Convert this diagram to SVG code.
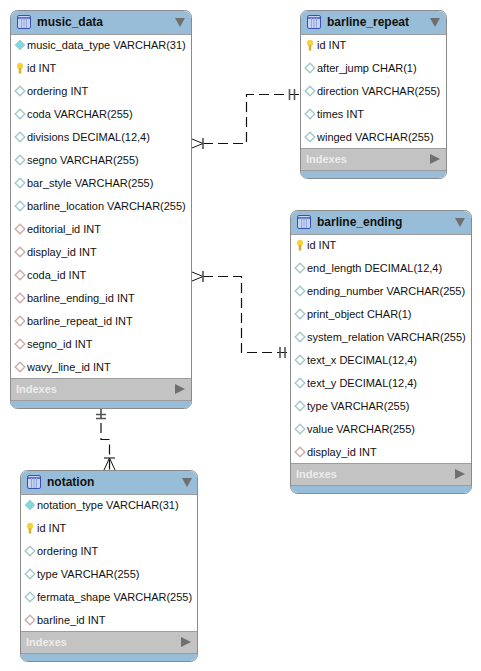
<svg xmlns="http://www.w3.org/2000/svg" width="481" height="671" viewBox="0 0 481 671">
<defs>
<style>
text{font-family:"Liberation Sans",Arial,sans-serif;font-size:11px;fill:#111}
.title{font-size:12px;font-weight:bold;fill:#111}
.idx{font-size:11px;font-weight:bold;fill:#ececec}
.frame{fill:#fff;stroke:#8a8a8a;stroke-width:1}
.blue{fill:#97bdd9}
.band{fill:#c3c3c3}
.sep{stroke:#9c9c9c;stroke-width:1}
.tri{fill:#6f6f6f}
.conn{fill:none;stroke:#111;stroke-width:1.2;stroke-dasharray:10 5}
.cap{fill:none;stroke:#111;stroke-width:1}
.bar{fill:none;stroke:#555;stroke-width:1.6}
</style>
<symbol id="tbl" overflow="visible">
<rect x="0.500" y="0.500" width="13" height="13" rx="1.500" fill="#c9d5f0" stroke="#3a50b0"/>
<path d="M1 3H13" stroke="#3a50b0" stroke-width="1.400"/>
<path d="M4.500 3V13M7 3V13M9.500 3V13" stroke="#8ea6dc" stroke-width="1"/>
</symbol>
<symbol id="pk" overflow="visible">
<path d="M-5 0L0 -5L5 0L0 5Z" fill="#7fdade" stroke="#b5cdcf" stroke-width="1"/>
</symbol>
<symbol id="col" overflow="visible">
<path d="M-4.800 0L0 -4.800L4.800 0L0 4.800Z" fill="#fff" stroke="#a3c8ca" stroke-width="1.400"/>
</symbol>
<symbol id="fk" overflow="visible">
<path d="M-4.800 0L0 -4.800L4.800 0L0 4.800Z" fill="#fff" stroke="#cfaaa7" stroke-width="1.400"/>
</symbol>
<symbol id="key" overflow="visible">
<ellipse cx="0" cy="-2" rx="3" ry="3.200" fill="#f7d23c"/>
<path d="M-1.300 0H1.300V5L0 6L-1.300 5Z" fill="#dcb02c"/>
</symbol>
</defs>

<g id="connectors">
<path class="conn" d="M203 143.500H246.500V94.500H300"/>
<path class="cap" d="M192 139L203 143.500L192 148"/>
<path class="bar" d="M203 138V149M289.500 89V100M294.500 89V100"/>
<path class="conn" d="M203 276.500H241.500V352.500H290"/>
<path class="cap" d="M192 272L203 276.500L192 281"/>
<path class="bar" d="M203 271V282M280 347V358M285 347V358"/>
<path class="conn" d="M101 408V439.500H109.500V470"/>
<path class="bar" d="M96 414.500H106M96 418.500H106M104 458H115"/>
<path class="cap" d="M104 470L109.500 458L115 470"/>
</g>

<g id="music_data">
<rect class="frame" x="10.500" y="10.500" width="181" height="398" rx="7"/>
<path class="blue" d="M11 34V17.500A7 7 0 0 1 18 11H184A7 7 0 0 1 191 17.500V34Z"/>
<path class="sep" d="M11 34.500H191"/>
<use href="#tbl" x="17" y="15"/>
<text class="title" x="37" y="26">music_data</text>
<path class="tri" d="M175 18H185L180 27Z"/>
<use href="#pk" x="20" y="45"/><text x="27" y="49">music_data_type VARCHAR(31)</text>
<use href="#key" x="20" y="68"/><text x="27" y="72">id INT</text>
<use href="#col" x="20" y="91"/><text x="27" y="95">ordering INT</text>
<use href="#col" x="20" y="114"/><text x="27" y="118">coda VARCHAR(255)</text>
<use href="#col" x="20" y="137"/><text x="27" y="141">divisions DECIMAL(12,4)</text>
<use href="#col" x="20" y="160"/><text x="27" y="164">segno VARCHAR(255)</text>
<use href="#col" x="20" y="183"/><text x="27" y="187">bar_style VARCHAR(255)</text>
<use href="#col" x="20" y="206"/><text x="27" y="210">barline_location VARCHAR(255)</text>
<use href="#fk" x="20" y="229"/><text x="27" y="233">editorial_id INT</text>
<use href="#fk" x="20" y="252"/><text x="27" y="256">display_id INT</text>
<use href="#fk" x="20" y="275"/><text x="27" y="279">coda_id INT</text>
<use href="#fk" x="20" y="298"/><text x="27" y="302">barline_ending_id INT</text>
<use href="#fk" x="20" y="321"/><text x="27" y="325">barline_repeat_id INT</text>
<use href="#fk" x="20" y="344"/><text x="27" y="348">segno_id INT</text>
<use href="#fk" x="20" y="367"/><text x="27" y="371">wavy_line_id INT</text>
<rect class="band" x="11" y="378" width="180" height="22"/>
<path class="sep" d="M11 378.500H191M11 400.500H191"/>
<text class="idx" x="16" y="393">Indexes</text>
<path class="tri" d="M175 384L185 389L175 394Z"/>
<path class="blue" d="M11 401H191V402A6 6 0 0 1 185 408H17A6 6 0 0 1 11 402Z"/>
</g>

<g id="barline_repeat">
<rect class="frame" x="300.500" y="10.500" width="146" height="168" rx="7"/>
<path class="blue" d="M301 34V17.500A7 7 0 0 1 308 11H439A7 7 0 0 1 446 17.500V34Z"/>
<path class="sep" d="M301 34.500H446"/>
<use href="#tbl" x="307" y="15"/>
<text class="title" x="317" y="26" dx="10">barline_repeat</text>
<path class="tri" d="M430 18H440L435 27Z"/>
<use href="#key" x="310" y="45"/><text x="317" y="49">id INT</text>
<use href="#col" x="310" y="68"/><text x="317" y="72">after_jump CHAR(1)</text>
<use href="#col" x="310" y="91"/><text x="317" y="95">direction VARCHAR(255)</text>
<use href="#col" x="310" y="114"/><text x="317" y="118">times INT</text>
<use href="#col" x="310" y="137"/><text x="317" y="141">winged VARCHAR(255)</text>
<rect class="band" x="301" y="148" width="145" height="22"/>
<path class="sep" d="M301 148.500H446M301 170.500H446"/>
<text class="idx" x="306" y="163">Indexes</text>
<path class="tri" d="M430 154L440 159L430 164Z"/>
<path class="blue" d="M301 171H446V172A6 6 0 0 1 440 178H307A6 6 0 0 1 301 172Z"/>
</g>

<g id="barline_ending">
<rect class="frame" x="290.500" y="210.500" width="181" height="283" rx="7"/>
<path class="blue" d="M291 234V217.500A7 7 0 0 1 298 211H464A7 7 0 0 1 471 217.500V234Z"/>
<path class="sep" d="M291 234.500H471"/>
<use href="#tbl" x="297" y="215"/>
<text class="title" x="317" y="226">barline_ending</text>
<path class="tri" d="M455 218H465L460 227Z"/>
<use href="#key" x="300" y="245"/><text x="307" y="249">id INT</text>
<use href="#col" x="300" y="268"/><text x="307" y="272">end_length DECIMAL(12,4)</text>
<use href="#col" x="300" y="291"/><text x="307" y="295">ending_number VARCHAR(255)</text>
<use href="#col" x="300" y="314"/><text x="307" y="318">print_object CHAR(1)</text>
<use href="#col" x="300" y="337"/><text x="307" y="341">system_relation VARCHAR(255)</text>
<use href="#col" x="300" y="360"/><text x="307" y="364">text_x DECIMAL(12,4)</text>
<use href="#col" x="300" y="383"/><text x="307" y="387">text_y DECIMAL(12,4)</text>
<use href="#col" x="300" y="406"/><text x="307" y="410">type VARCHAR(255)</text>
<use href="#col" x="300" y="429"/><text x="307" y="433">value VARCHAR(255)</text>
<use href="#fk" x="300" y="452"/><text x="307" y="456">display_id INT</text>
<rect class="band" x="291" y="463" width="180" height="22"/>
<path class="sep" d="M291 463.500H471M291 485.500H471"/>
<text class="idx" x="296" y="478">Indexes</text>
<path class="tri" d="M455 469L465 474L455 479Z"/>
<path class="blue" d="M291 486H471V487A6 6 0 0 1 465 493H297A6 6 0 0 1 291 487Z"/>
</g>

<g id="notation">
<rect class="frame" x="20.500" y="470.500" width="177" height="191" rx="7"/>
<path class="blue" d="M21 494V477.500A7 7 0 0 1 28 471H190A7 7 0 0 1 197 477.500V494Z"/>
<path class="sep" d="M21 494.500H197"/>
<use href="#tbl" x="27" y="475"/>
<text class="title" x="47" y="486">notation</text>
<path class="tri" d="M182 478H192L187 487Z"/>
<use href="#pk" x="30" y="505"/><text x="37" y="509">notation_type VARCHAR(31)</text>
<use href="#key" x="30" y="528"/><text x="37" y="532">id INT</text>
<use href="#col" x="30" y="551"/><text x="37" y="555">ordering INT</text>
<use href="#col" x="30" y="574"/><text x="37" y="578">type VARCHAR(255)</text>
<use href="#col" x="30" y="597"/><text x="37" y="601">fermata_shape VARCHAR(255)</text>
<use href="#fk" x="30" y="620"/><text x="37" y="624">barline_id INT</text>
<rect class="band" x="21" y="631" width="176" height="22"/>
<path class="sep" d="M21 631.500H197M21 653.500H197"/>
<text class="idx" x="26" y="646">Indexes</text>
<path class="tri" d="M181 637L191 642L181 647Z"/>
<path class="blue" d="M21 654H197V655A6 6 0 0 1 191 661H27A6 6 0 0 1 21 655Z"/>
</g>
</svg>
